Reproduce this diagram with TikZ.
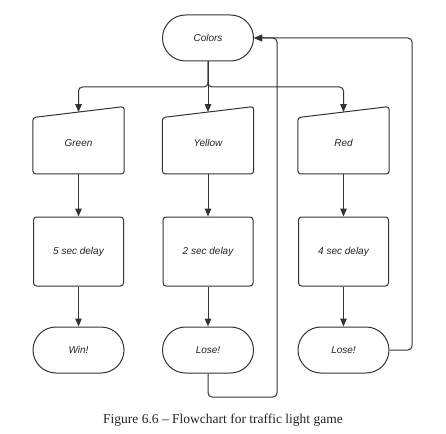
\documentclass[tikz,border=0pt]{standalone}
\usepackage{fontspec}
\setmainfont{Liberation Serif}
\newfontfamily\labelfont{Liberation Sans}
\usetikzlibrary{arrows.meta,calc,shapes.misc}
\definecolor{linec}{HTML}{333333}
\definecolor{textc}{HTML}{222222}
\tikzset{
  lbl/.style={text=textc, font=\labelfont\itshape\fontsize{10}{12}\selectfont},
  term/.style={lbl, rounded rectangle, draw=linec, line width=1pt,
    minimum width=91pt, minimum height=46pt, inner sep=0pt},
  proc/.style={lbl, rectangle, draw=linec, line width=1pt, rounded corners=3pt,
    minimum width=90pt, minimum height=69pt, inner sep=0pt},
  inbox/.style={lbl, rectangle, draw=none,
    minimum width=91pt, minimum height=61.5pt, inner sep=0pt},
  inshape/.style={draw=linec, line width=1pt, rounded corners=3pt},
  flow/.style={draw=linec, line width=1pt, rounded corners=4pt},
  arrow/.style={flow, -{Triangle[length=8pt,width=6.5pt]}},
}
\newcommand{\manualinput}[1]{%
  \draw[inshape] (#1.south west) -- ($(#1.north west)+(0,5.5)$)
    -- ($(#1.north east)+(0,-5.5)$) -- (#1.south east) -- cycle;}
\begin{document}
\begin{tikzpicture}[x=1pt,y=-1pt]
  \useasboundingbox (0,0) rectangle (446,433);

  % start node
  \node[term] (colors) at (208,38) {Colors};

  % colour choices
  \node[inbox] (green)  at (78.5,143)  {Green};
  \node[inbox] (yellow) at (208,143)   {Yellow};
  \node[inbox] (red)    at (343.5,143) {Red};
  \manualinput{green}
  \manualinput{yellow}
  \manualinput{red}

  % delays
  \node[proc] (d5) at (78.5,251.5)  {5 sec delay};
  \node[proc] (d2) at (208,251.5)   {2 sec delay};
  \node[proc] (d4) at (343.5,251.5) {4 sec delay};

  % outcomes
  \node[term] (win)   at (78.5,350)  {Win!};
  \node[term] (loseY) at (208,350)   {Lose!};
  \node[term] (loseR) at (343.5,350) {Lose!};

  % branching from the start node
  \coordinate (split) at (208,87);
  \draw[arrow] (colors.south) -- (split) -- (green.north |- split) -- (green.north);
  \draw[arrow] (colors.south) -- (split) -- (red.north |- split) -- (red.north);
  \draw[arrow] (colors.south) -- (yellow.north);

  % straight flow down each column
  \draw[arrow] (green.south)  -- (d5.north);
  \draw[arrow] (yellow.south) -- (d2.north);
  \draw[arrow] (red.south)    -- (d4.north);
  \draw[arrow] (d5.south) -- (win.north);
  \draw[arrow] (d2.south) -- (loseY.north);
  \draw[arrow] (d4.south) -- (loseR.north);

  % loops back to the start
  \coordinate (backY) at (277,397);
  \coordinate (backR) at (412,350);
  \draw[arrow] (loseY.south) -- (loseY.south |- backY) -- (backY)
    -- (backY |- colors.east) -- (colors.east);
  \draw[arrow] (loseR.east) -- (backR) -- (backR |- colors.east) -- (colors.east);

  % caption
  \node[text=textc, font=\fontsize{13.5}{16}\selectfont] (caption) at (223,420)
    {Figure 6.6 – Flowchart for traffic light game};
\end{tikzpicture}
\end{document}
